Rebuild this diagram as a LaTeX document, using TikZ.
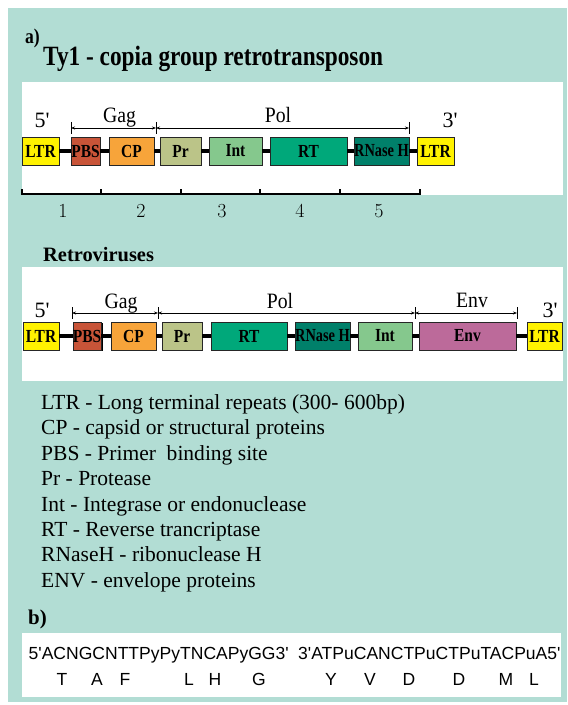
\documentclass[tikz,border=0pt]{standalone}
\usepackage{fontspec}
\usepackage{graphicx}
\setmainfont{Liberation Serif}
\newfontfamily\labelfont{Liberation Serif}
\newfontfamily\seqfont{Liberation Sans}
\newfontfamily\lmdigits{Latin Modern Roman}
\usetikzlibrary{arrows.meta,shadows}

\definecolor{panel}{HTML}{B2DDD4}
\definecolor{ltrc}{HTML}{FFF200}
\definecolor{pbsc}{HTML}{C85438}
\definecolor{cpc}{HTML}{F7A43A}
\definecolor{prc}{HTML}{BBC488}
\definecolor{intc}{HTML}{85C88D}
\definecolor{rtc}{HTML}{00A87A}
\definecolor{rnhc}{HTML}{00806A}
\definecolor{envc}{HTML}{BC6A9A}

% narrow setting used for the gene map lettering
\newcommand\cond[1]{\scalebox{0.84}[1]{#1}}
\newcommand\genefont{\fontsize{18.5}{18.5}\selectfont\bfseries}
\newcommand\regionfont{\labelfont\fontsize{22}{22}\selectfont}

\begin{document}
\begin{tikzpicture}[x=1bp,y=-1bp,
  gene/.style={draw=black!85, line width=0.6bp, inner sep=0pt,
    minimum height=28bp, font=\genefont,
    drop shadow={shadow xshift=1.4bp, shadow yshift=-1.4bp, opacity=1, fill=black}},
  link/.style={line width=3.2bp, black},
  span/.style={line width=0.6bp,
    {Stealth[length=4bp,width=3bp]}-{Stealth[length=4bp,width=3bp]}},
  bar/.style={line width=0.7bp},
  region/.style={inner sep=0pt, anchor=base, font=\regionfont},
  heading/.style={inner sep=0pt, anchor=base west},
  legend/.style={inner sep=0pt, anchor=base west,
    font=\fontsize{21.6}{21.6}\selectfont},
  seq/.style={inner sep=0pt, font=\seqfont\fontsize{17.6}{17.6}\selectfont},
  num/.style={inner sep=0pt, anchor=base,
    font=\lmdigits\fontsize{20}{20}\selectfont}]

\useasboundingbox (0,0) rectangle (568,705);
\fill[white] (0,0) rectangle (568,705);

% backgrounds
\fill[panel] (8,8) rectangle (567,702);
\fill[white] (22,82) rectangle (563,195);
\fill[white] (22,267) rectangle (563,381);
\fill[white] (22,633) rectangle (561,697);

% headings
\node[heading, font=\bfseries\fontsize{21}{21}\selectfont] (lbla) at (25,44) {\cond{a)}};
\node[heading, font=\bfseries\fontsize{28}{28}\selectfont] (ttl1) at (43,66)
  {\scalebox{0.835}[1]{Ty1 - copia group retrotransposon}};
\node[heading, font=\bfseries\fontsize{20.5}{20.5}\selectfont] (ttl2) at (43,261) {Retroviruses};
\node[heading, font=\bfseries\fontsize{21}{21}\selectfont] (lblb) at (28,624) {b)};

% ---- Ty1-copia map ----
\node[gene, fill=ltrc, minimum width=37bp] (a1) at (40.5,151) {\cond{LTR}};
\node[gene, fill=pbsc, minimum width=29bp] (a2) at (85.5,151) {\cond{PBS}};
\node[gene, fill=cpc,  minimum width=45bp] (a3) at (131.5,151) {\cond{CP}};
\node[gene, fill=prc,  minimum width=41bp] (a4) at (180.5,151) {\cond{Pr}};
\node[gene, fill=intc, minimum width=53bp] (a5) at (235.5,151) {\cond{Int}};
\node[gene, fill=rtc,  minimum width=77bp] (a6) at (308.5,151) {\cond{RT}};
\node[gene, fill=rnhc, minimum width=53bp] (a7) at (381.5,151) {\scalebox{0.78}[1]{RNase H}};
\node[gene, fill=ltrc, minimum width=37bp] (a8) at (435.5,151) {\cond{LTR}};
\foreach \p/\q in {a1/a2,a2/a3,a3/a4,a4/a5,a5/a6,a6/a7,a7/a8}
  \draw[link] (\p.east) -- (\q.west);

\coordinate (ga1) at (71,128);
\coordinate (ga2) at (156,128);
\coordinate (ga3) at (409,128);
\foreach \c in {ga1,ga2,ga3}
  \draw[bar] ([yshift=6bp]\c) -- ([yshift=-6bp]\c);
\draw[span] (ga1) -- (ga2);
\draw[span] (ga2) -- (ga3);

\node[region] (a5p) at (42,128) {5'};
\node[region] (agag) at (119.5,123) {\scalebox{0.9}[1]{Gag}};
\node[region] (apol) at (278,123) {\scalebox{0.9}[1]{Pol}};
\node[region] (a3p) at (450,128) {3'};

% ruler
\draw[line width=1.4bp] (22,194) -- (420,194);
\foreach \x in {22,101,181,260,340,420}
  \draw[line width=1.1bp] (\x,194.6) -- (\x,189);
\foreach \x/\n in {63/1,141/2,222/3,300/4,379/5}
  \node[num] (n\n) at (\x,217) {\n};

% ---- retrovirus map ----
\node[gene, fill=ltrc, minimum width=36bp] (b1) at (41,336) {\cond{LTR}};
\node[gene, fill=pbsc, minimum width=28bp] (b2) at (87,336) {\cond{PBS}};
\node[gene, fill=cpc,  minimum width=45bp] (b3) at (133.5,336) {\cond{CP}};
\node[gene, fill=prc,  minimum width=40bp] (b4) at (182,336) {\cond{Pr}};
\node[gene, fill=rtc,  minimum width=76bp] (b5) at (249,336) {\cond{RT}};
\node[gene, fill=rnhc, minimum width=53bp] (b6) at (322.5,336) {\scalebox{0.78}[1]{RNase H}};
\node[gene, fill=intc, minimum width=54bp] (b7) at (385,336) {\cond{Int}};
\node[gene, fill=envc, minimum width=97bp] (b8) at (467.5,336) {\cond{Env}};
\node[gene, fill=ltrc, minimum width=35bp] (b9) at (544.5,336) {\cond{LTR}};
\foreach \p/\q in {b1/b2,b2/b3,b3/b4,b4/b5,b5/b6,b6/b7,b7/b8,b8/b9}
  \draw[link] (\p.east) -- (\q.west);

\coordinate (gb1) at (72,313);
\coordinate (gb2) at (158,313);
\coordinate (gb3) at (415,313);
\coordinate (gb4) at (517,313);
\foreach \c in {gb1,gb2,gb3,gb4}
  \draw[bar] ([yshift=6bp]\c) -- ([yshift=-6bp]\c);
\draw[span] (gb1) -- (gb2);
\draw[span] (gb2) -- (gb3);
\draw[span] (gb3) -- (gb4);

\node[region] (b5p) at (42,317) {5'};
\node[region] (bgag) at (121,308) {\scalebox{0.9}[1]{Gag}};
\node[region] (bpol) at (280,308) {\scalebox{0.9}[1]{Pol}};
\node[region] (benv) at (472,307) {\scalebox{0.9}[1]{Env}};
\node[region] (b3p) at (550,317) {3'};

% legend
\node[legend] (l1) at (41,409.4) {LTR - Long terminal repeats (300- 600bp)};
\node[legend] (l2) at (41,434.8) {CP - capsid or structural proteins};
\node[legend] (l3) at (41,460.2) {PBS - Primer\ \ binding site};
\node[legend] (l4) at (41,485.6) {Pr - Protease};
\node[legend] (l5) at (41,511.0) {Int - Integrase or endonuclease};
\node[legend] (l6) at (41,536.4) {RT - Reverse trancriptase};
\node[legend] (l7) at (41,561.8) {RNaseH - ribonuclease H};
\node[legend] (l8) at (41,587.2) {ENV - envelope proteins};

% primer sequences and encoded residues
\node[seq, anchor=base west] (s1) at (28.5,659) {5'ACNGCNTTPyPyTNCAPyGG3'};
\node[seq, anchor=base west] (s2) at (298,659) {3'ATPuCANCTPuCTPuTACPuA5'};
\foreach \x/\l [count=\i] in {62/T,97/A,125/F,189/L,215/H,259/G,331/Y,370/V,409/D,459/D,506/M,534/L}
  \node[seq, anchor=base] (aa\i) at (\x,685) {\l};

\end{tikzpicture}
\end{document}
